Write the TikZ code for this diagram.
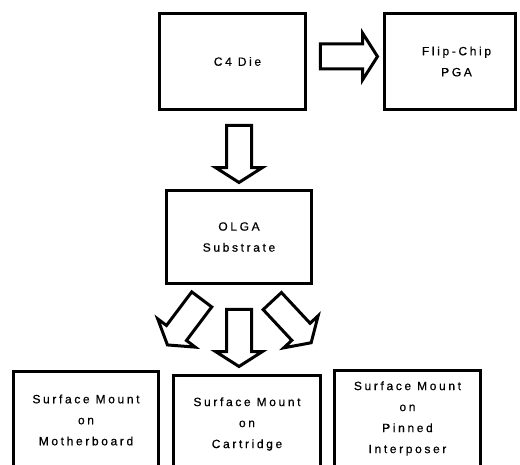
\documentclass[tikz,border=0pt]{standalone}
\usepackage{fontspec}
\usepackage{tikz}
\usetikzlibrary{positioning,calc,shapes.arrows}
\newfontfamily\lblfont{Liberation Sans}[LetterSpace=22,FakeBold=0.6]

\tikzset{
  pkgbox/.style={draw,line width=3pt,minimum width=146pt,minimum height=96pt,
    inner sep=0pt,align=center,font=\lblfont\fontsize{12}{21}\selectfont},
  flowarrow/.style={single arrow,draw,line width=3pt,fill=white,
    text height=0pt,text depth=0pt,inner xsep=0pt,inner ysep=11pt,
    minimum height=57pt,single arrow head extend=11pt,
    single arrow tip angle=115}
}

\begin{document}
\begin{tikzpicture}[x=1pt,y=-1pt]
  \useasboundingbox (0,0) rectangle (520,465);
  % die and the two packages built on it
  \node[pkgbox] (die) at (232.5,61.5) {\hspace*{10pt}C4 Die};
  \node[pkgbox,minimum width=131pt] (pga) at (450,61.5) {\hspace*{13pt}Flip-Chip\\\hspace*{13pt}PGA};
  \node[pkgbox,minimum width=145pt,minimum height=93pt] (olga) at (239,237) {OLGA\\Substrate};
  % mounting options
  \node[pkgbox,minimum width=145pt] (mobo) at (86,420) {Surface Mount\\on\\Motherboard};
  \node[pkgbox,minimum width=147pt] (cart) at (247,424) {Surface Mount\\on\\Cartridge};
  \node[pkgbox] (pinned) at (407.5,418.5) {Surface Mount\\on\\Pinned\\Interposer};

  % block arrows
  \node[flowarrow] (toPga) at ($(die.east)!.5!(pga.west)+(0,-5)$) {};
  \node[flowarrow,rotate=-90] (toOlga) at ($(die.south -| olga)!.5!(olga.north)$) {};
  \node[flowarrow,rotate=-90] (toCart) at ($(olga.south)+(0,49)$) {};
  \node[flowarrow,rotate=-127] (toMobo) at ($(olga.south)+(-52,34)$) {};
  \node[flowarrow,rotate=-47] (toPinned) at ($(olga.south)+(50,34)$) {};
\end{tikzpicture}
\end{document}
